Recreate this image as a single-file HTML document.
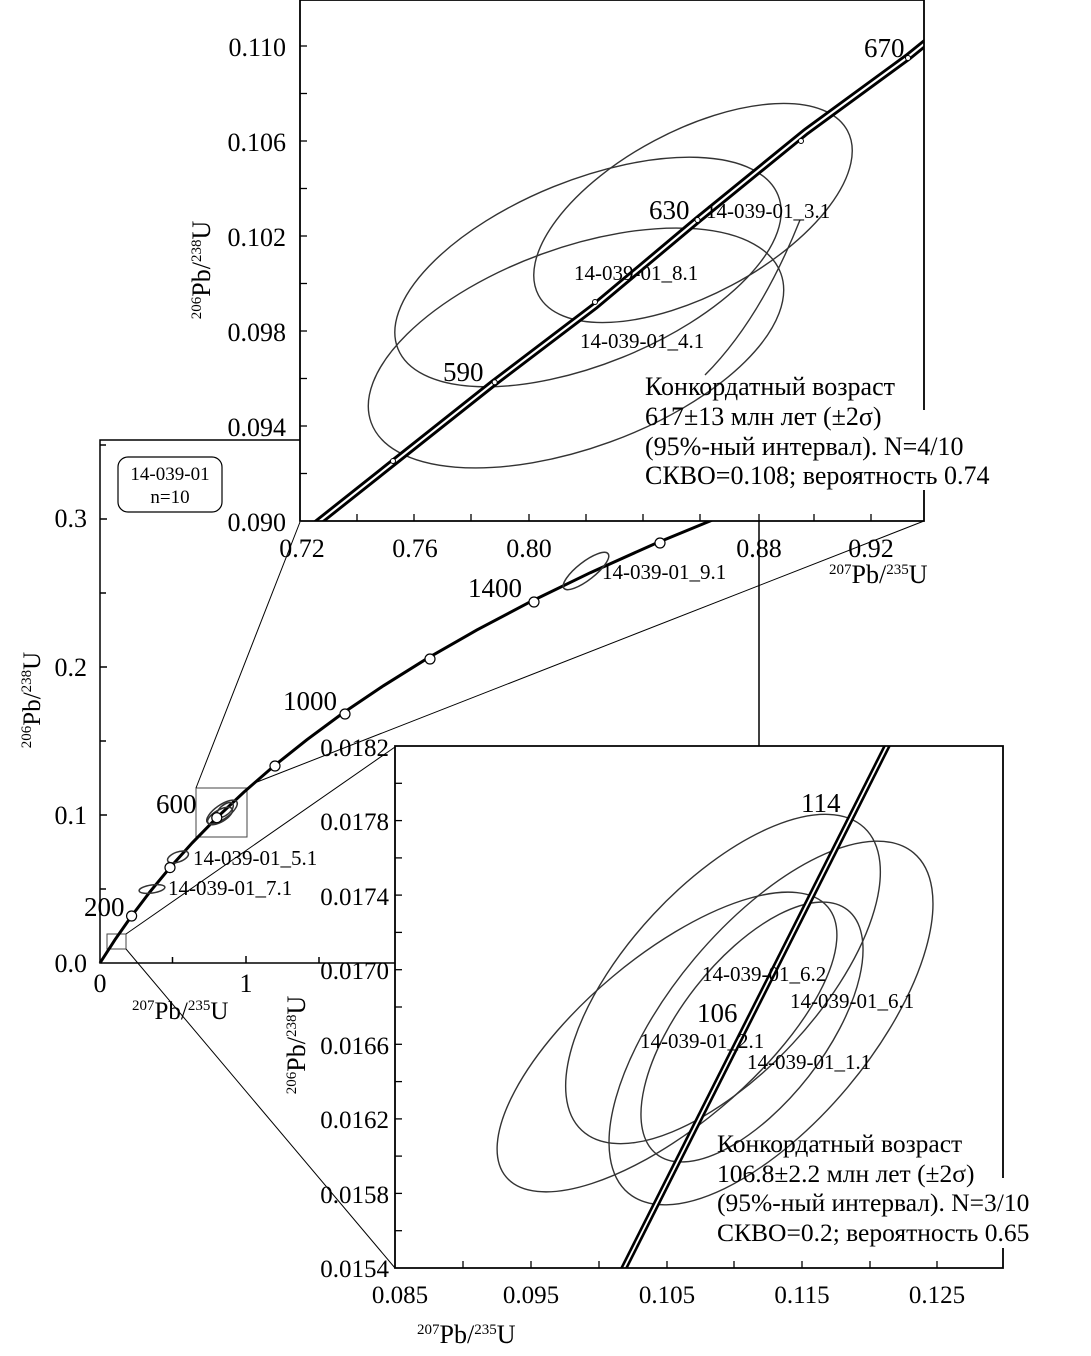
<!DOCTYPE html>
<html><head><meta charset="utf-8"><style>
html,body{margin:0;padding:0;background:#fff;}
svg{display:block;}
text{font-family:"Liberation Serif",serif;fill:#000;}
</style></head><body>
<svg width="1091" height="1356" viewBox="0 0 1091 1356" xmlns="http://www.w3.org/2000/svg">
<defs>
<clipPath id="ct"><rect x="300" y="0" width="624" height="521"/></clipPath>
<clipPath id="cb"><rect x="395" y="746" width="608" height="522"/></clipPath>
</defs>
<rect width="1091" height="1356" fill="#fff"/>

<!-- MAIN PLOT -->
<g stroke="#000" stroke-width="1.5" fill="none">
<polyline points="300,440 100,440 100,963 395,963"/>
<line x1="100" y1="889" x2="106" y2="889"/><line x1="100" y1="815" x2="107" y2="815"/>
<line x1="100" y1="741" x2="106" y2="741"/><line x1="100" y1="667" x2="107" y2="667"/>
<line x1="100" y1="593" x2="106" y2="593"/><line x1="100" y1="519" x2="107" y2="519"/>
<line x1="100" y1="445" x2="106" y2="445"/>
<line x1="172.5" y1="963" x2="172.5" y2="957"/><line x1="246" y1="963" x2="246" y2="956"/>
<line x1="319" y1="963" x2="319" y2="957"/>
</g>
<g font-size="26">
<text x="87" y="527" text-anchor="end">0.3</text>
<text x="87" y="676" text-anchor="end">0.2</text>
<text x="87" y="824" text-anchor="end">0.1</text>
<text x="87" y="972" text-anchor="end">0.0</text>
<text x="100" y="992" text-anchor="middle">0</text>
<text x="246" y="992" text-anchor="middle">1</text>
</g>
<text x="132" y="1019" font-size="25"><tspan font-size="15" dy="-9">207</tspan><tspan dy="9">Pb/</tspan><tspan font-size="15" dy="-9">235</tspan><tspan dy="9">U</tspan></text>
<text transform="translate(40,700) rotate(-90)" text-anchor="middle" font-size="25"><tspan font-size="15" dy="-9">206</tspan><tspan dy="9">Pb/</tspan><tspan font-size="15" dy="-9">238</tspan><tspan dy="9">U</tspan></text>
<rect x="118" y="457" width="104" height="55" rx="10" fill="#fff" stroke="#000" stroke-width="1.2"/>
<text x="170" y="480" font-size="19" text-anchor="middle">14-039-01</text>
<text x="170" y="503" font-size="19" text-anchor="middle">n=10</text>

<!-- connectors -->
<g stroke="#000" stroke-width="1" fill="none">
<rect x="196" y="788" width="51" height="49" stroke="#444"/>
<rect x="107" y="934" width="19" height="15" stroke="#444"/>
<line x1="196" y1="788" x2="300" y2="522"/>
<line x1="257" y1="782" x2="924" y2="521"/>
<line x1="126" y1="934" x2="395" y2="747"/>
<line x1="126" y1="949" x2="395" y2="1268"/>
<line x1="759" y1="521" x2="759" y2="746" stroke-width="1.5"/>
</g>

<!-- main concordia -->
<polyline fill="none" stroke="#000" stroke-width="3" points="100,963 115,939.7 131.6,916 149.8,892 170,867.6 192.3,842.8 216.8,817.7 243.9,792.1 273.8,766.1 306.8,739.8 343.2,712.9 383.4,685.8 427.8,658.1 476.7,630.1 530.7,601.6 590.3,572.7 656,543.2 728.6,513.4"/>
<g fill="none" stroke="#333" stroke-width="1.5">
<ellipse cx="222" cy="812" rx="18" ry="7" transform="rotate(-35 222 812)"/>
<ellipse cx="220" cy="816" rx="14" ry="6" transform="rotate(-30 220 816)"/>
<ellipse cx="225" cy="810" rx="10" ry="5" transform="rotate(-40 225 810)"/>
<ellipse cx="178" cy="857" rx="11" ry="5" transform="rotate(-20 178 857)"/>
<ellipse cx="152" cy="889" rx="13" ry="4" transform="rotate(-8 152 889)"/>
<ellipse cx="586" cy="571" rx="28" ry="9" transform="rotate(-38 586 571)"/>
</g>
<g fill="#fff" stroke="#000" stroke-width="1.2">
<circle cx="131.6" cy="916" r="5"/><circle cx="170" cy="867.6" r="5"/>
<circle cx="216.8" cy="817.7" r="5"/><circle cx="275" cy="766" r="5"/>
<circle cx="345" cy="714" r="5"/><circle cx="430" cy="659" r="5"/>
<circle cx="534" cy="602" r="5"/><circle cx="660" cy="543" r="5"/>
</g>
<g font-size="27">
<text x="84" y="916">200</text>
<text x="156" y="813">600</text>
<text x="283" y="710">1000</text>
<text x="468" y="597">1400</text>
</g>
<g font-size="21">
<text x="193" y="865">14-039-01_5.1</text>
<text x="168" y="895">14-039-01_7.1</text>
<text x="602" y="579">14-039-01_9.1</text>
</g>

<!-- TOP INSET -->
<rect x="300" y="0" width="624" height="521" fill="#fff"/>
<g clip-path="url(#ct)">
<g fill="none" stroke="#333" stroke-width="1.4">
<ellipse cx="693" cy="213" rx="175" ry="82" transform="rotate(-28 693 213)"/>
<ellipse cx="588" cy="272" rx="205" ry="92" transform="rotate(-22 588 272)"/>
<ellipse cx="576" cy="348" rx="218" ry="100" transform="rotate(-20 576 348)"/>
<path d="M800 220 Q760 320 705 375"/>
</g>
<polyline fill="none" stroke="#000" stroke-width="8" points="289.5,545 494.7,382.2 595,306 697.5,220 805.5,132 908,57 940,31"/>
<polyline fill="none" stroke="#fff" stroke-width="2.2" points="289.5,545 494.7,382.2 595,306 697.5,220 805.5,132 908,57 940,31"/>
<g fill="#fff" stroke="#000" stroke-width="1"><circle cx="393" cy="461" r="2.5"/><circle cx="494.7" cy="382.2" r="2.5"/><circle cx="595" cy="302" r="2.5"/><circle cx="697.5" cy="220" r="2.5"/><circle cx="801" cy="141" r="2.5"/><circle cx="908" cy="58" r="2.5"/></g>
</g>
<g stroke="#000" stroke-width="1.8" fill="none">
<polyline points="924,410 924,0 300,0 300,521 924,521 924,490"/>
</g>
<g stroke="#000" stroke-width="1.3">
<line x1="300" y1="473.5" x2="307" y2="473.5"/><line x1="300" y1="426" x2="307" y2="426"/>
<line x1="300" y1="378.5" x2="307" y2="378.5"/><line x1="300" y1="331" x2="307" y2="331"/>
<line x1="300" y1="283.5" x2="307" y2="283.5"/><line x1="300" y1="236" x2="307" y2="236"/>
<line x1="300" y1="188.5" x2="307" y2="188.5"/><line x1="300" y1="141" x2="307" y2="141"/>
<line x1="300" y1="93.5" x2="307" y2="93.5"/><line x1="300" y1="46" x2="307" y2="46"/>
<line x1="357" y1="521" x2="357" y2="514"/><line x1="414" y1="521" x2="414" y2="514"/>
<line x1="471" y1="521" x2="471" y2="514"/><line x1="529" y1="521" x2="529" y2="514"/>
<line x1="586" y1="521" x2="586" y2="514"/><line x1="643" y1="521" x2="643" y2="514"/>
<line x1="700" y1="521" x2="700" y2="514"/><line x1="759" y1="521" x2="759" y2="514"/>
<line x1="814" y1="521" x2="814" y2="514"/><line x1="871" y1="521" x2="871" y2="514"/>
</g>
<g font-size="26" text-anchor="end">
<text x="286" y="56">0.110</text><text x="286" y="151">0.106</text>
<text x="286" y="246">0.102</text><text x="286" y="341">0.098</text>
<text x="286" y="436">0.094</text><text x="286" y="531">0.090</text>
</g>
<g font-size="26" text-anchor="middle">
<text x="302" y="557">0.72</text><text x="415" y="557">0.76</text>
<text x="529" y="557">0.80</text><text x="759" y="557">0.88</text>
<text x="871" y="557">0.92</text>
</g>
<text x="829" y="583" font-size="26"><tspan font-size="15" dy="-9">207</tspan><tspan dy="9">Pb/</tspan><tspan font-size="15" dy="-9">235</tspan><tspan dy="9">U</tspan></text>
<text transform="translate(210,270) rotate(-90)" text-anchor="middle" font-size="26"><tspan font-size="15" dy="-9">206</tspan><tspan dy="9">Pb/</tspan><tspan font-size="15" dy="-9">238</tspan><tspan dy="9">U</tspan></text>
<g font-size="27">
<text x="864" y="57">670</text><text x="649" y="219">630</text><text x="443" y="381">590</text>
</g>
<g font-size="21">
<text x="706" y="218">14-039-01_3.1</text>
<text x="574" y="280">14-039-01_8.1</text>
<text x="580" y="348">14-039-01_4.1</text>
</g>
<g font-size="26">
<text x="645" y="395">Конкордатный возраст</text>
<text x="645" y="425">617±13 млн лет (±2σ)</text>
<text x="645" y="455">(95%-ный интервал). N=4/10</text>
<text x="645" y="484">СКВО=0.108; вероятность 0.74</text>
</g>

<!-- BOTTOM INSET -->
<rect x="395" y="746" width="608" height="522" fill="#fff"/>
<g clip-path="url(#cb)">
<g fill="none" stroke="#333" stroke-width="1.4">
<ellipse cx="723" cy="979" rx="207" ry="95" transform="rotate(-47 723 979)"/>
<ellipse cx="771" cy="1023" rx="222" ry="100" transform="rotate(-50 771 1023)"/>
<ellipse cx="667" cy="1042" rx="210" ry="85" transform="rotate(-40 667 1042)"/>
<ellipse cx="752" cy="1032" rx="155" ry="72" transform="rotate(-52 752 1032)"/>
</g>
<line x1="623" y1="1270" x2="888" y2="744" stroke="#000" stroke-width="7"/>
<line x1="623" y1="1270" x2="888" y2="744" stroke="#fff" stroke-width="1.8"/>
</g>
<g stroke="#000" stroke-width="1.8" fill="none">
<polyline points="1003,1178 1003,746 395,746 395,1268 1003,1268 1003,1248"/>
</g>
<g stroke="#000" stroke-width="1.3">
<line x1="395" y1="1230.7" x2="402" y2="1230.7"/><line x1="395" y1="1193.4" x2="402" y2="1193.4"/>
<line x1="395" y1="1156.1" x2="402" y2="1156.1"/><line x1="395" y1="1118.9" x2="402" y2="1118.9"/>
<line x1="395" y1="1081.6" x2="402" y2="1081.6"/><line x1="395" y1="1044.3" x2="402" y2="1044.3"/>
<line x1="395" y1="1007" x2="402" y2="1007"/><line x1="395" y1="969.7" x2="402" y2="969.7"/>
<line x1="395" y1="932.4" x2="402" y2="932.4"/><line x1="395" y1="895.1" x2="402" y2="895.1"/>
<line x1="395" y1="857.9" x2="402" y2="857.9"/><line x1="395" y1="820.6" x2="402" y2="820.6"/>
<line x1="395" y1="783.3" x2="402" y2="783.3"/>
<line x1="463" y1="1268" x2="463" y2="1261"/><line x1="531" y1="1268" x2="531" y2="1261"/>
<line x1="599" y1="1268" x2="599" y2="1261"/><line x1="667" y1="1268" x2="667" y2="1261"/>
<line x1="734" y1="1268" x2="734" y2="1261"/><line x1="802" y1="1268" x2="802" y2="1261"/>
<line x1="870" y1="1268" x2="870" y2="1261"/><line x1="937" y1="1268" x2="937" y2="1261"/>
</g>
<g font-size="25" text-anchor="end">
<text x="389" y="756">0.0182</text><text x="389" y="830">0.0178</text>
<text x="389" y="905">0.0174</text><text x="389" y="979">0.0170</text>
<text x="389" y="1054">0.0166</text><text x="389" y="1128">0.0162</text>
<text x="389" y="1203">0.0158</text><text x="389" y="1277">0.0154</text>
</g>
<g font-size="25" text-anchor="middle">
<text x="400" y="1303">0.085</text><text x="531" y="1303">0.095</text>
<text x="667" y="1303">0.105</text><text x="802" y="1303">0.115</text>
<text x="937" y="1303">0.125</text>
</g>
<text x="417" y="1343" font-size="26"><tspan font-size="15" dy="-9">207</tspan><tspan dy="9">Pb/</tspan><tspan font-size="15" dy="-9">235</tspan><tspan dy="9">U</tspan></text>
<text transform="translate(305,1045) rotate(-90)" text-anchor="middle" font-size="26"><tspan font-size="15" dy="-9">206</tspan><tspan dy="9">Pb/</tspan><tspan font-size="15" dy="-9">238</tspan><tspan dy="9">U</tspan></text>
<g font-size="27">
<text x="801" y="812">114</text><text x="697" y="1022">106</text>
</g>
<g font-size="21">
<text x="702" y="981">14-039-01_6.2</text>
<text x="790" y="1008">14-039-01_6.1</text>
<text x="640" y="1048">14-039-01_2.1</text>
<text x="747" y="1069">14-039-01_1.1</text>
</g>
<g font-size="25.5">
<text x="717" y="1152">Конкордатный возраст</text>
<text x="717" y="1182">106.8±2.2 млн лет (±2σ)</text>
<text x="717" y="1211">(95%-ный интервал). N=3/10</text>
<text x="717" y="1241">СКВО=0.2; вероятность 0.65</text>
</g>
</svg>
</body></html>
